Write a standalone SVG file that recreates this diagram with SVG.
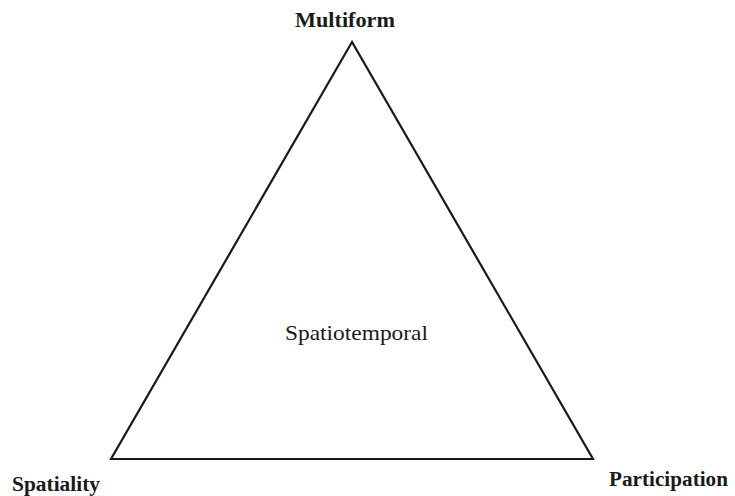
<svg xmlns="http://www.w3.org/2000/svg" width="735" height="496" viewBox="0 0 735 496">
<style>
.lbl{font-family:"Liberation Serif","Times New Roman",serif;font-weight:bold;font-size:20.5px;fill:#1a1a1a}
.ctr{font-family:"Liberation Serif","Times New Roman",serif;font-size:21px;fill:#1a1a1a}
.edge{fill:none;stroke:#1a1a1a;stroke-width:2.2;stroke-linejoin:miter}
</style>
<rect width="735" height="496" fill="#ffffff"/>
<g id="connectors">
<polygon class="edge" points="352,42 111,459 593,459"/>
</g>
<g id="node-multiform"><text class="lbl" x="295" y="27" textLength="100" lengthAdjust="spacingAndGlyphs">Multiform</text></g>
<g id="node-spatiality"><text class="lbl" x="12" y="491" textLength="88" lengthAdjust="spacingAndGlyphs">Spatiality</text></g>
<g id="node-participation"><text class="lbl" x="609" y="486" textLength="119" lengthAdjust="spacingAndGlyphs">Participation</text></g>
<g id="node-spatiotemporal"><text class="ctr" x="285" y="340" textLength="143" lengthAdjust="spacingAndGlyphs">Spatiotemporal</text></g>
</svg>
